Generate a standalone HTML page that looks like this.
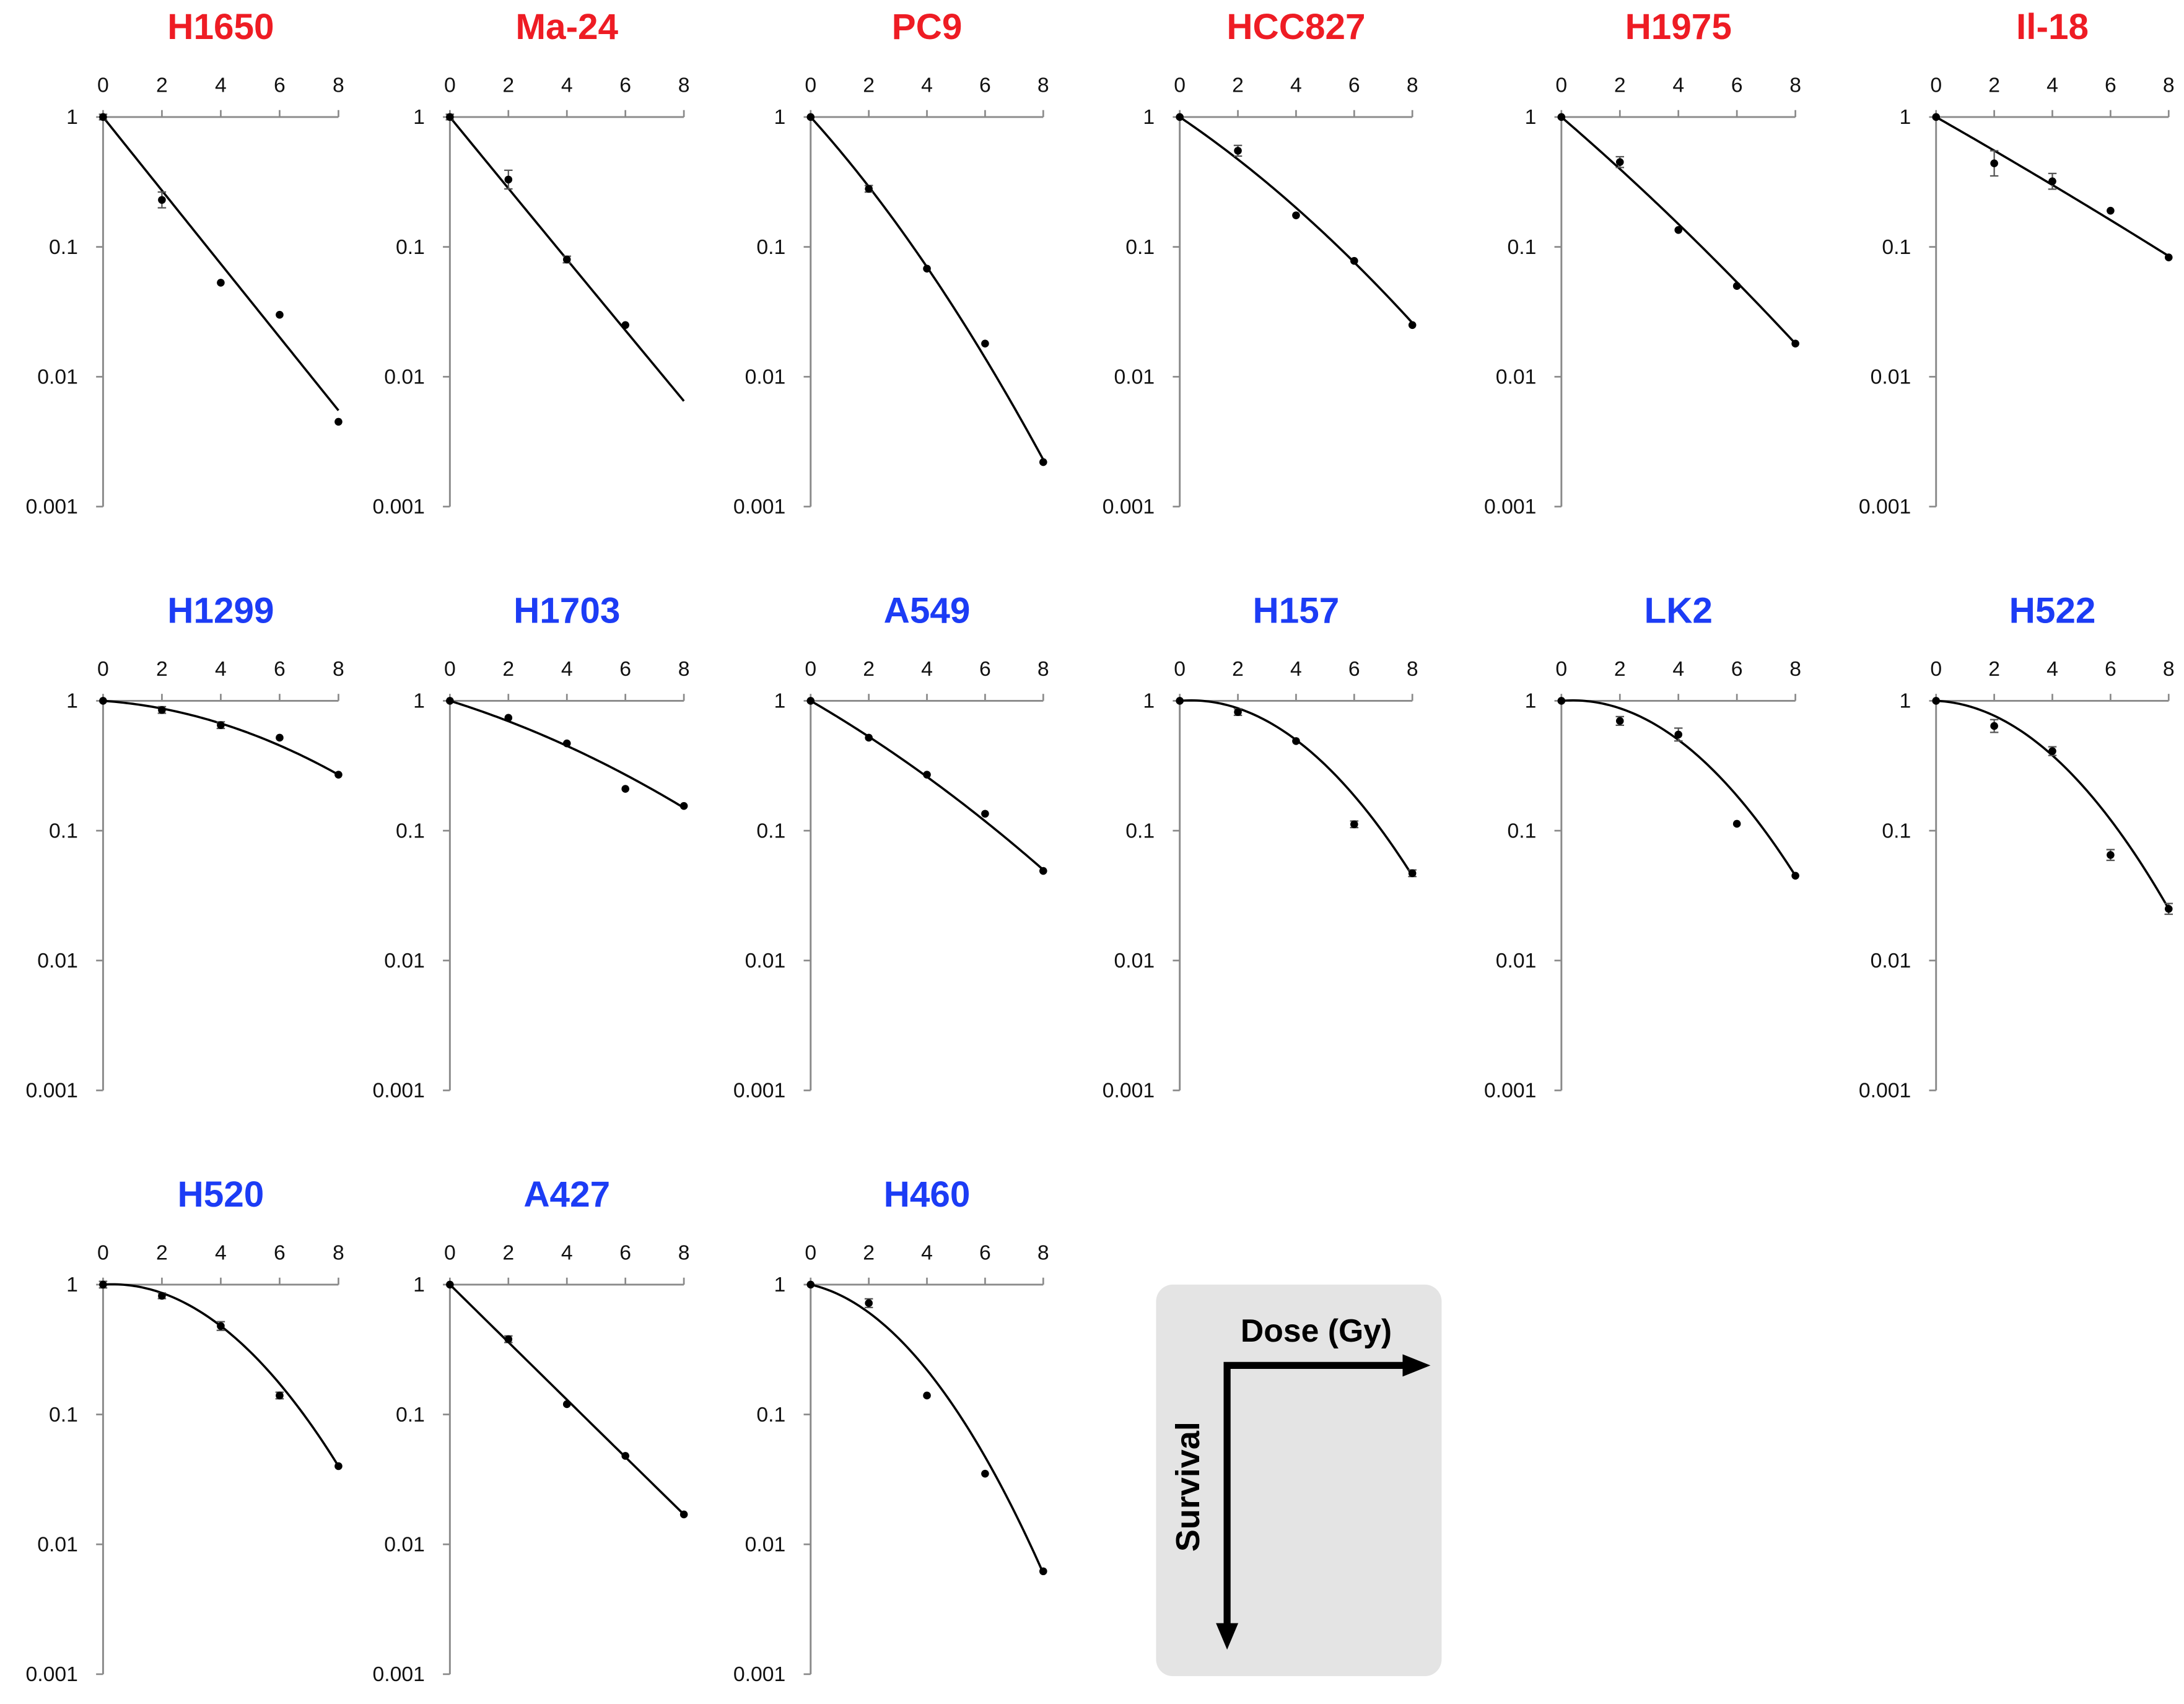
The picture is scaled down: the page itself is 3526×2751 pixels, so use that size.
<!DOCTYPE html>
<html><head><meta charset="utf-8"><style>
html,body{margin:0;padding:0;background:#fff}
svg{display:block}
</style></head><body>
<svg id="chart" xmlns="http://www.w3.org/2000/svg" width="3526" height="2751" viewBox="0 0 1568 1223" preserveAspectRatio="none" font-family="'Liberation Sans', Arial, sans-serif">
<rect width="1568" height="1223" fill="#fff"/>
<g id="panels"></g>
<g>
<rect x="830" y="922" width="205" height="281" rx="12" fill="#e4e4e4"/>
<text x="945" y="963" text-anchor="middle" font-size="23" font-weight="bold" fill="#000">Dose (Gy)</text>
<text transform="translate(861,1067) rotate(-90)" text-anchor="middle" font-size="24" font-weight="bold" fill="#000">Survival</text>
<path d="M881 1168 V980 H1010" stroke="#000" stroke-width="5" fill="none"/>
<polygon points="1007,972 1027,980 1007,988" fill="#000"/>
<polygon points="873,1165 881,1184 889,1165" fill="#000"/>
</g>
</svg>
<script>
const names = ["H1650","Ma-24","PC9","HCC827","H1975","Il-18","H1299","H1703","A549","H157","LK2","H522","H520","A427","H460"];
const colors = ["red","red","red","red","red","red","blue","blue","blue","blue","blue","blue","blue","blue","blue"];
const doses = [0,2,4,6,8];
const survival = [
 [1,0.23,0.053,0.03,0.0045],
 [1,0.33,0.08,0.025,null],
 [1,0.28,0.068,0.018,0.0022],
 [1,0.55,0.175,0.078,0.025],
 [1,0.45,0.135,0.05,0.018],
 [1,0.44,0.32,0.19,0.083],
 [1,0.85,0.65,0.52,0.27],
 [1,0.74,0.47,0.21,0.155],
 [1,0.52,0.27,0.135,0.049],
 [1,0.82,0.49,0.112,0.047],
 [1,0.70,0.55,0.113,0.045],
 [1,0.64,0.41,0.065,0.025],
 [1,0.82,0.48,0.14,0.04],
 [1,0.38,0.12,0.048,0.017],
 [1,0.72,0.14,0.035,0.0062]
];
const errFactor = [
 [1.05,1.15,1.04,1.04,1.04],[1.05,1.18,1.06,1.04,1],[1.04,1.06,1.04,1.04,1.04],[1.04,1.1,1.04,1.04,1.04],[1.04,1.1,1.04,1.04,1.04],[1.04,1.25,1.15,1.04,1.04],
 [1.03,1.06,1.06,1.04,1.04],[1.03,1.04,1.04,1.04,1.04],[1.03,1.04,1.04,1.04,1.04],[1.03,1.06,1.04,1.06,1.06],[1.03,1.08,1.12,1.04,1.04],[1.03,1.12,1.08,1.1,1.1],
 [1.06,1.05,1.08,1.06,1.04],[1.04,1.06,1.04,1.04,1.04],[1.04,1.08,1.04,1.04,1.04]
];
const fitAt4 = [0.074,0.08,0.07,0.2,0.15,0.3,0.67,0.45,0.26,0.5,0.5,0.38,0.48,0.13,0.22];
const fitAt8 = [0.0055,0.0065,0.0023,0.026,0.018,0.085,0.27,0.15,0.05,0.045,0.045,0.025,0.04,0.017,0.006];
const xTicks = [0,2,4,6,8];
const yTicks = [1,0.1,0.01,0.001];
const yTickLabels = ["1","0.1","0.01","0.001"];

const colX = [[74,243],[323,491],[582,749],[847,1014],[1121,1289],[1390,1557]];
const rowY = [84,503,922];
const decade = 93.2;
const NS="http://www.w3.org/2000/svg";
const root=document.getElementById('panels');
function mk(tag,attrs,parent){const e=document.createElementNS(NS,tag);for(const k in attrs)e.setAttribute(k,attrs[k]);parent.appendChild(e);return e;}

names.forEach((name,i)=>{
  const r=Math.floor(i/6), c=i%6;
  const [x0,x1]=colX[c]; const y0=rowY[r];
  const sx=d=>x0+(x1-x0)*d/8;
  const sy=v=>y0-Math.log10(v)*decade;
  const g=mk('g',{},root);
  
  
  const t=mk('text',{x:(x0+x1)/2,y:y0-56,'text-anchor':'middle','font-size':26,'font-weight':'bold',fill:colors[i]==='red'?'#ee1c24':'#1c3cf5'},g);
  t.textContent=name;
  
  
  const ax=mk('path',{d:`M${x0} ${y0} H${x1} M${x0} ${y0} V${sy(0.001)}`,stroke:'#8a8a8a','stroke-width':1.3,fill:'none'},g);
  
  
  xTicks.forEach(d=>{
    mk('line',{x1:sx(d),x2:sx(d),y1:y0,y2:y0-5,stroke:'#8a8a8a','stroke-width':1.2},g);
    const tl=mk('text',{x:sx(d),y:y0-18,'text-anchor':'middle','font-size':15,fill:'#111'},g);
    tl.textContent=d;
    
    
  });
  yTicks.forEach((v,k)=>{
    mk('line',{x1:x0-5,x2:x0,y1:sy(v),y2:sy(v),stroke:'#8a8a8a','stroke-width':1.2},g);
    const tl=mk('text',{x:x0-18,y:sy(v)+5,'text-anchor':'end','font-size':15,fill:'#111'},g);
    tl.textContent=yTickLabels[k];
    
    
  });
  const l4=Math.log(fitAt4[i]), l8=Math.log(fitAt8[i]);
  const b=(2*l4-l8)/32, a=(-l4-16*b)/4;
  let d='';
  for(let s=0;s<=80;s++){const D=s/10;const v=Math.exp(-a*D-b*D*D);d+=(s?'L':'M')+sx(D).toFixed(2)+' '+sy(v).toFixed(2);}
  const fp=mk('path',{d:d,stroke:'#000','stroke-width':1.6,fill:'none'},g);
  
  
  survival[i].forEach((v,k)=>{
    if(v==null)return;
    const f=errFactor[i][k];
    const px=sx(doses[k]);
    if(f>1.045){
      mk('path',{d:`M${px} ${sy(v*f)} V${sy(v/f)} M${px-3} ${sy(v*f)} H${px+3} M${px-3} ${sy(v/f)} H${px+3}`,stroke:'#555','stroke-width':1},g);
    }
    const p=mk('circle',{cx:px,cy:sy(v),r:2.8,fill:'#000'},g);
    
    
  });
});
</script>
</body></html>
